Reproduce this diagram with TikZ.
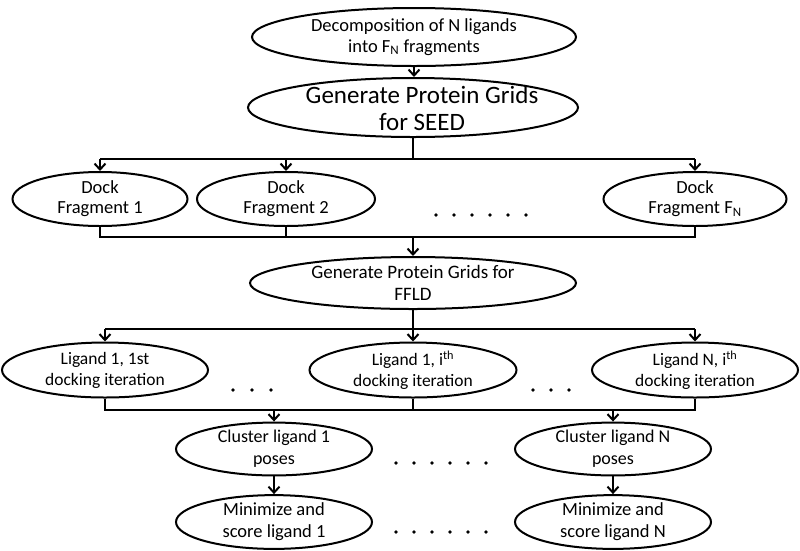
\documentclass[tikz,border=0pt]{standalone}
\usepackage{fontspec}
\setmainfont{Carlito}
\usetikzlibrary{shapes.geometric,arrows.meta}
\begin{document}
\begin{tikzpicture}[x=1pt,y=-1pt,
  ell/.style={draw, ellipse, line width=2pt, inner sep=0pt, align=center, font=\fontsize{17.5}{21}\selectfont},
  docktxt/.style={font=\fontsize{18.5}{20}\selectfont},
  conn/.style={line width=2pt},
  arr/.style={conn, -{Straight Barb[length=6pt,width=11pt]}},
  dotmark/.style={fill, circle, inner sep=0pt, minimum size=3.6pt}]
\useasboundingbox (0,0) rectangle (800,550);

% nodes
\node[ell, minimum width=324pt, minimum height=58pt, font=\fontsize{18.5}{21}\selectfont] (decomp) at (414,37) {Decomposition of N ligands\\into F\textsubscript{N} fragments};
\node[ell, minimum width=330pt, minimum height=59pt] (seed) at (413,107.5) {};
\node[align=center, inner sep=0pt, font=\fontsize{25}{27}\selectfont] (seedtext) at ([xshift=9pt,yshift=-1pt]seed.center) {Generate Protein Grids\\for SEED};

\node[ell, minimum width=175pt, minimum height=54pt, docktxt] (dock1) at (100,199) {Dock\\Fragment 1};
\node[ell, minimum width=178pt, minimum height=54pt, docktxt] (dock2) at (286,199) {Dock\\Fragment 2};
\node[ell, minimum width=183pt, minimum height=54pt, docktxt] (dockN) at (695,199) {Dock\\Fragment F\textsubscript{N}};

\node[ell, minimum width=326pt, minimum height=52pt, font=\fontsize{19}{22}\selectfont] (ffld) at (413,283) {Generate Protein Grids for\\FFLD};

\node[ell, minimum width=206pt, minimum height=55pt] (lig1) at (105,370) {Ligand 1, 1st\\docking iteration};
\node[ell, minimum width=207pt, minimum height=55pt] (ligi) at (413,370) {Ligand 1, i\textsuperscript{th}\\docking iteration};
\node[ell, minimum width=206pt, minimum height=55pt] (ligN) at (695,370) {Ligand N, i\textsuperscript{th}\\docking iteration};

\node[ell, minimum width=196pt, minimum height=52pt, font=\fontsize{18}{22}\selectfont] (clu1) at (274,449) {Cluster ligand 1\\poses};
\node[ell, minimum width=196pt, minimum height=52pt, font=\fontsize{18}{22}\selectfont] (cluN) at (613,449) {Cluster ligand N\\poses};

\node[ell, minimum width=196pt, minimum height=50pt, font=\fontsize{18.5}{22}\selectfont] (min1) at (274,522) {Minimize and\\score ligand 1};
\node[ell, minimum width=196pt, minimum height=50pt, font=\fontsize{18.5}{22}\selectfont] (minN) at (613,522) {Minimize and\\score ligand N};

% junction coordinates
\coordinate (s1) at (413,159);
\coordinate (b1) at (413,237);
\coordinate (t2) at (413,329);
\coordinate (b2) at (413,410);

% connectors
\draw[arr] (decomp.south) -- (decomp.south |- seed.north);
\draw[conn] (seed.south) -- (seed.south |- s1);
\draw[conn] (dock1.north |- s1) -- (dockN.north |- s1);
\draw[arr] (dock1.north |- s1) -- (dock1.north);
\draw[arr] (dock2.north |- s1) -- (dock2.north);
\draw[arr] (dockN.north |- s1) -- (dockN.north);

\draw[conn] (dock1.south) -- (dock1.south |- b1) -- (dockN.south |- b1) -- (dockN.south);
\draw[conn] (dock2.south) -- (dock2.south |- b1);
\draw[arr] (ffld.north |- b1) -- (ffld.north);

\draw[conn] (ffld.south) -- (ffld.south |- t2);
\draw[conn] (lig1.north |- t2) -- (ligN.north |- t2);
\draw[arr] (lig1.north |- t2) -- (lig1.north);
\draw[arr] (ligi.north |- t2) -- (ligi.north);
\draw[arr] (ligN.north |- t2) -- (ligN.north);

\draw[conn] (lig1.south) -- (lig1.south |- b2) -- (ligN.south |- b2) -- (ligN.south);
\draw[conn] (ligi.south) -- (ligi.south |- b2);
\draw[arr] (clu1.north |- b2) -- (clu1.north);
\draw[arr] (cluN.north |- b2) -- (cluN.north);

\draw[arr] (clu1.south) -- (min1.north);
\draw[arr] (cluN.south) -- (minN.north);

% dots
\foreach \i in {0,...,5} {
  \node[dotmark] at (436+18*\i,215) {};
  \node[dotmark] at (396+18*\i,463) {};
  \node[dotmark] at (396+18*\i,532) {};
}
\foreach \i in {0,1,2} {
  \node[dotmark] at (233+19*\i,390) {};
  \node[dotmark] at (533+18*\i,390) {};
}
\end{tikzpicture}
\end{document}
